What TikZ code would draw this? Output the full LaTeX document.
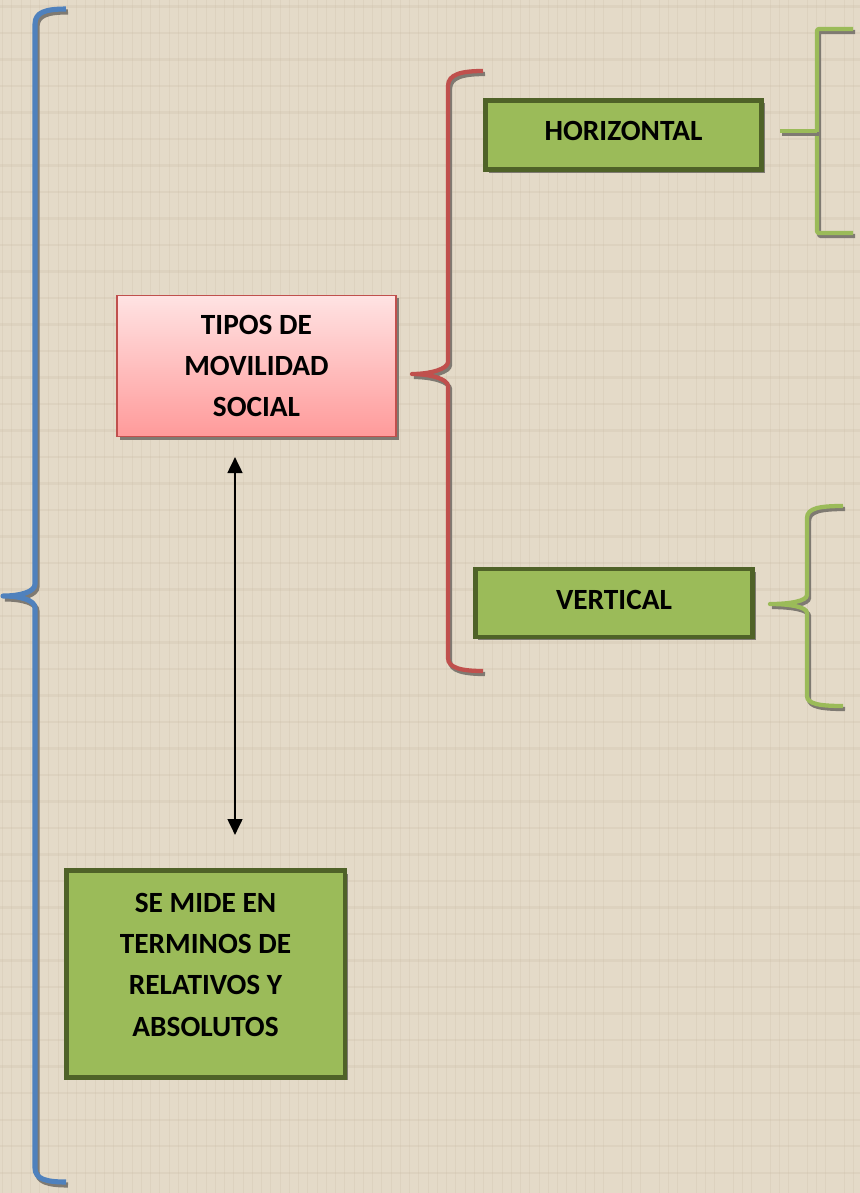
\documentclass[tikz,border=0pt]{standalone}
\usepackage{fontspec}
\setmainfont{Carlito}
\usetikzlibrary{arrows.meta}
\definecolor{bg}{HTML}{E4DAC8}
\definecolor{bgdark}{HTML}{CDC1AB}
\definecolor{bluebr}{HTML}{4F81BD}
\definecolor{redbr}{HTML}{C0504D}
\definecolor{greenbr}{HTML}{9BBB59}
\definecolor{greenbd}{HTML}{4F6228}
\definecolor{shadowgray}{HTML}{7F7A72}
\definecolor{pinktop}{HTML}{FFE3E3}
\definecolor{pinkbot}{HTML}{FF9A9A}
\begin{document}
\begin{tikzpicture}[x=0.75pt,y=-0.75pt,
  brace/.style={line width=#1, line cap=butt, line join=round,
    preaction={draw=shadowgray, line width=#1, transform canvas={shift={(2,3)}}}},
  boxtext/.style={font=\fontsize{22}{31}\selectfont\bfseries, align=center, inner sep=0pt},
  greenbox/.style={draw=greenbd, line width=3.5pt, fill=greenbr, inner sep=0pt,
    preaction={fill=shadowgray, transform canvas={shift={(3,3)}}}},
  pinkbox/.style={draw=redbr, line width=1.2pt, top color=pinktop, bottom color=pinkbot,
    inner sep=0pt, boxtext},
  arr/.style={line width=2pt, {Triangle[length=12pt,width=11pt]}-{Triangle[length=12pt,width=11pt]}}
]
\fill[bg] (0,0) rectangle (860,1193);
\useasboundingbox (0,0) rectangle (860,1193);
% faint texture
\foreach \i in {0,...,85} {
  \pgfmathsetmacro{\xx}{mod(\i*37+11,860)}
  \draw[bgdark, opacity=0.3, line width=0.6pt] (\xx,0) -- (\xx,1193);
}
\foreach \i in {0,...,110} {
  \pgfmathsetmacro{\yy}{mod(\i*53+7,1193)}
  \draw[bgdark, opacity=0.3, line width=0.6pt] (0,\yy) -- (860,\yy);
}

% blue brace
\draw[brace=3.8pt, draw=bluebr] (66,9) .. controls (46,9) and (35,12) .. (35,24)
  -- (35,584) .. controls (35,592) and (20,596) .. (3,596)
  .. controls (20,596) and (35,600) .. (35,608)
  -- (35,1168) .. controls (35,1179) and (46,1182) .. (66,1182);

% red brace
\draw[brace=3.2pt, draw=redbr] (483,71) .. controls (462,71) and (448,74) .. (448,86)
  -- (448,362) .. controls (448,369) and (430,374) .. (412,374)
  .. controls (430,374) and (448,379) .. (448,386)
  -- (448,658) .. controls (448,668) and (462,671) .. (483,671);

% green brace (horizontal)
\draw[brace=3.2pt, draw=greenbr, rounded corners=1.5pt] (853,29) -- (817,29) -- (817,233) -- (853,233);
\draw[brace=3.2pt, draw=greenbr] (780,131) -- (817,131);

% green brace (vertical)
\draw[brace=3.2pt, draw=greenbr] (843,506) .. controls (820,506) and (807,508) .. (807,518)
  -- (807,595) .. controls (807,601) and (790,604) .. (770,604)
  .. controls (790,604) and (807,607) .. (807,613)
  -- (807,696) .. controls (807,704) and (820,706) .. (843,706);

% boxes
\fill[shadowgray] (120,298) rectangle (399,440);
\node[pinkbox, minimum width=209pt, minimum height=106pt] (tipos) at (256.5,366)
  {TIPOS DE\\MOVILIDAD\\SOCIAL};
\node[greenbox, minimum width=207pt, minimum height=52pt,
  label={[boxtext, yshift=3pt]center:HORIZONTAL}] (horiz) at (623.5,135) {};
\node[greenbox, minimum width=208pt, minimum height=51pt,
  label={[boxtext, yshift=2pt]center:VERTICAL}] (vert) at (614,603) {};
\node[greenbox, minimum width=209pt, minimum height=155pt,
  label={[boxtext, yshift=7pt]center:{SE MIDE EN\\TERMINOS DE\\RELATIVOS Y\\ABSOLUTOS}}] (mide) at (205.5,974) {};

% arrow
\coordinate (atop) at (235,457);
\coordinate (abot) at (235,835);
\draw[arr] (atop) -- (abot);
\end{tikzpicture}
\end{document}
